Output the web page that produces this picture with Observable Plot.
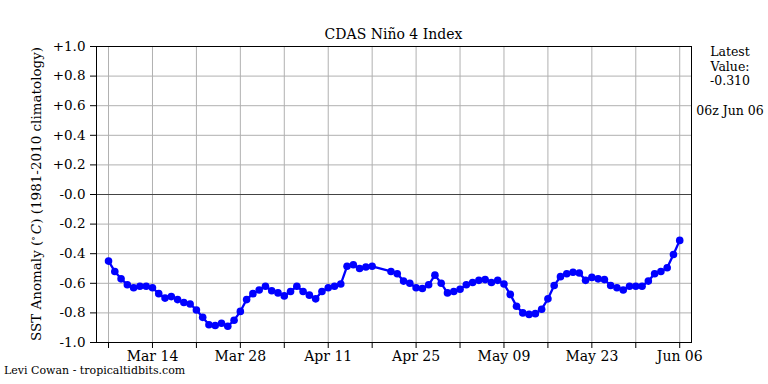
<!DOCTYPE html>
<html>
<head>
<meta charset="utf-8">
<script src="https://cdn.jsdelivr.net/npm/d3@7"></script>
<script src="https://cdn.jsdelivr.net/npm/@observablehq/plot@0.6"></script>
<style>
  html, body { margin: 0; padding: 0; background: #fff; }
  #chart { width: 768px; height: 384px; }
</style>
</head>
<body>
<div id="chart"></div>
<script>
// ---- data (month-day, year 2021) ----
const dates = [
  "03-07","03-08","03-09","03-10","03-11","03-12","03-13","03-14","03-15","03-16","03-17","03-18","03-19",
  "03-20","03-21","03-22","03-23","03-24","03-25","03-26","03-27","03-28","03-29","03-30","03-31",
  "04-01","04-02","04-03","04-04","04-05","04-06","04-07","04-08","04-09","04-10","04-11","04-12","04-13",
  "04-14","04-15","04-16","04-17","04-18",
  "04-21","04-22","04-23","04-24","04-25","04-26","04-27","04-28","04-29","04-30",
  "05-01","05-02","05-03","05-04","05-05","05-06","05-07","05-08","05-09","05-10","05-11","05-12","05-13",
  "05-14","05-15","05-16","05-17","05-18","05-19","05-20","05-21","05-22","05-23","05-24","05-25","05-26",
  "05-27","05-28","05-29","05-30","05-31",
  "06-01","06-02","06-03","06-04","06-05","06-06"
];
const values = [
  -0.45,-0.52,-0.57,-0.61,-0.63,-0.62,-0.62,-0.63,-0.67,-0.70,-0.69,-0.71,-0.73,
  -0.74,-0.78,-0.83,-0.88,-0.885,-0.87,-0.89,-0.85,-0.79,-0.71,-0.67,-0.645,
  -0.62,-0.65,-0.665,-0.685,-0.655,-0.62,-0.655,-0.68,-0.705,-0.655,-0.63,-0.62,-0.605,
  -0.485,-0.475,-0.50,-0.49,-0.485,
  -0.52,-0.535,-0.585,-0.60,-0.63,-0.635,-0.61,-0.545,-0.60,-0.665,
  -0.655,-0.64,-0.61,-0.595,-0.58,-0.575,-0.595,-0.58,-0.605,-0.675,-0.755,-0.80,-0.81,
  -0.805,-0.775,-0.705,-0.615,-0.555,-0.535,-0.525,-0.53,-0.58,-0.56,-0.57,-0.575,-0.615,
  -0.63,-0.645,-0.62,-0.62,-0.62,
  -0.585,-0.535,-0.52,-0.495,-0.405,-0.31
];
const gridDates = ["03-07","03-14","03-21","03-28","04-04","04-11","04-18","04-25",
                   "05-02","05-09","05-16","05-23","05-30","06-06"];
const xTickDates = ["03-14","03-28","04-11","04-25","05-09","05-23","06-06"];
const xTickLabels = ["Mar 14","Mar 28","Apr 11","Apr 25","May 09","May 23","Jun 06"];
const yTicks = [-1.0,-0.8,-0.6,-0.4,-0.2,0.0,0.2,0.4,0.6,0.8,1.0];
const yTickLabels = ["-1.0","-0.8","-0.6","-0.4","-0.2","-0.0","+0.2","+0.4","+0.6","+0.8","+1.0"];
const title = "CDAS Niño 4 Index";
const latestLines = ["Latest", "Value:", "-0.310"];
const latestTime = "06z Jun 06";
const credit = "Levi Cowan - tropicaltidbits.com";

const YEAR = 2021;
const toDate = s => new Date(`${YEAR}-${s}T00:00:00Z`);
const data = dates.map((d, i) => ({date: toDate(d), value: values[i]}));
const grid = gridDates.map(toDate);
const majorMap = new Map(xTickDates.map((d, i) => [+toDate(d), xTickLabels[i]]));
const yLabelMap = new Map(yTicks.map((v, i) => [v.toFixed(1), yTickLabels[i]]));

const HOUR = 3600e3;
const xDomain = [new Date(+data[0].date - 46 * HOUR), new Date(+data[data.length - 1].date + 45 * HOUR)];

const font = "'DejaVu Serif', serif";

const plot = Plot.plot({
  width: 768,
  height: 384,
  marginLeft: 96,
  marginRight: 77,
  marginTop: 46,
  marginBottom: 42,
  style: {fontFamily: font, fontSize: "14px", background: "#fff", color: "#000"},
  x: {type: "utc", domain: xDomain},
  y: {domain: [-1, 1]},
  marks: [
    Plot.gridX(grid, {stroke: "#b0b0b0", strokeOpacity: 1, strokeWidth: 1}),
    Plot.gridY(yTicks, {stroke: "#b0b0b0", strokeOpacity: 1, strokeWidth: 1}),
    Plot.ruleY([0], {stroke: "#444", strokeWidth: 1}),
    Plot.line(data, {x: "date", y: "value", stroke: "#0000ff", strokeWidth: 2.3}),
    Plot.dot(data, {x: "date", y: "value", fill: "#0000ff", r: 3.8}),
    Plot.frame({stroke: "#000", strokeWidth: 1}),
    Plot.axisX(grid, {
      tickSize: 6, tickPadding: 3, label: null, fontSize: 14,
      tickFormat: d => majorMap.get(+d) ?? ""
    }),
    Plot.axisY(yTicks, {
      tickSize: 6, tickPadding: 5, label: null, fontSize: 13.5,
      tickFormat: v => yLabelMap.get(v.toFixed(1))
    })
  ]
});

document.getElementById("chart").appendChild(plot);

// ---- texts outside the plotting frame ----
const svg = d3.select(plot);
svg.append("text")
  .attr("x", 393.5).attr("y", 38.5)
  .attr("text-anchor", "middle")
  .style("font-family", font).style("font-size", "14px")
  .text(title);

const yl = svg.append("text")
  .attr("transform", "translate(41,194) rotate(-90)")
  .attr("text-anchor", "middle")
  .style("font-family", font).style("font-size", "13.5px");
yl.append("tspan").text("SST Anomaly (");
yl.append("tspan").attr("dy", -5).style("font-size", "9px").text("∘");
yl.append("tspan").attr("dy", 5).attr("dx", 2).style("font-style", "italic").text("C");
yl.append("tspan").text(") (1981-2010 climatology)");

latestLines.forEach((t, i) => {
  svg.append("text")
    .attr("x", 730).attr("y", 56 + i * 14.5)
    .attr("text-anchor", "middle")
    .style("font-family", font).style("font-size", "12.5px")
    .text(t);
});
svg.append("text")
  .attr("x", 730).attr("y", 115)
  .attr("text-anchor", "middle")
  .style("font-family", font).style("font-size", "12.5px")
  .text(latestTime);

svg.append("text")
  .attr("x", 4).attr("y", 373.5)
  .attr("text-anchor", "start")
  .style("font-family", font).style("font-size", "11px")
  .text(credit);
</script>
</body>
</html>
